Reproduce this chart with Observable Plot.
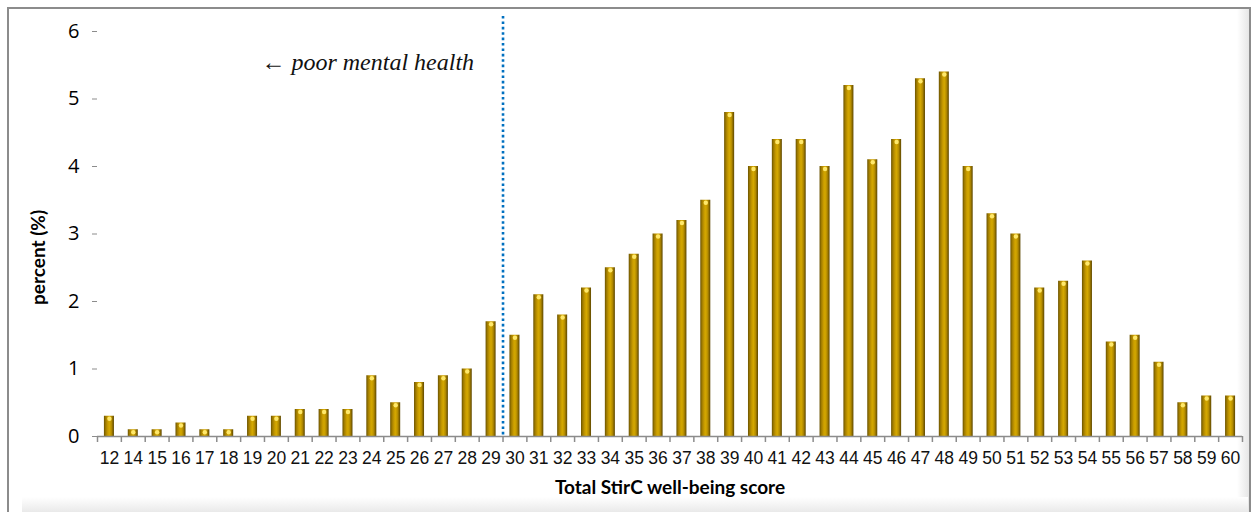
<!DOCTYPE html>
<html>
<head>
<meta charset="utf-8">
<script src="https://cdn.jsdelivr.net/npm/d3@7"></script>
<script src="https://cdn.jsdelivr.net/npm/@observablehq/plot@0.6"></script>
<style>
  html, body { margin: 0; padding: 0; background: #fff; }
  #wrap { position: relative; width: 1257px; height: 512px; overflow: hidden; }
  #frame { position: absolute; left: 7px; top: 7px; width: 1244px; height: 520px;
           border: 2px solid #8c8c8c; box-sizing: border-box;
           background: linear-gradient(to right, rgba(255,255,255,0) 1228px, #e2e2e2 1242px); }
  #bottom { position: absolute; left: 22px; top: 497px; width: 1226px; height: 20px;
            background: linear-gradient(to bottom, #ffffff, #e2e2e2); }
  #chart { position: absolute; left: 0; top: 0; }
</style>
</head>
<body>
<div id="wrap">
  <div id="frame"></div>
  <div id="bottom"></div>
  <div id="chart"></div>
</div>
<script>
const scores = ["12","14","15","16","17","18","19","20","21","22","23","24","25","26","27","28","29","30","31","32","33","34","35","36","37","38","39","40","41","42","43","44","45","46","47","48","49","50","51","52","53","54","55","56","57","58","59","60"];
const percents = [0.3,0.1,0.1,0.2,0.1,0.1,0.3,0.3,0.4,0.4,0.4,0.9,0.5,0.8,0.9,1.0,1.7,1.5,2.1,1.8,2.2,2.5,2.7,3.0,3.2,3.5,4.8,4.0,4.4,4.4,4.0,5.2,4.1,4.4,5.3,5.4,4.0,3.3,3.0,2.2,2.3,2.6,1.4,1.5,1.1,0.5,0.6,0.6];
const yTicks = [0,1,2,3,4,5,6];
const cutoffScore = ["29"];
const annotation = [{score: "29", value: 5.55, text: "\u2190 poor mental health"}];
const xTitle = "Total StirC well-being score";
const yTitle = "percent (%)";

const data = scores.map((s, i) => ({score: s, pct: percents[i]}));

const W = 1257, H = 512, mL = 97, mR = 15, mT = 31, mB = 76;
const step = (W - mL - mR) / scores.length;

const chart = Plot.plot({
  width: W, height: H,
  marginLeft: mL, marginRight: mR, marginTop: mT, marginBottom: mB,
  style: {background: "transparent", overflow: "visible"},
  x: {domain: scores, paddingInner: 0.58, paddingOuter: 0.29, axis: null},
  y: {domain: [0, 6], axis: null},
  marks: [
    Plot.ruleX([0], {frameAnchor: "left", stroke: "#8c8c8c", strokeWidth: 1.5}),
    Plot.axisY(yTicks, {tickSize: 5, tickPadding: 13, stroke: "#8c8c8c", fill: "#000",
      tickFormat: d3.format("d"),
      fontSize: 20, fontFamily: "'Open Sans', sans-serif", label: null}),
    Plot.barY(data, {x: "score", y: "pct", fill: "url(#gold)", ariaLabel: "bars"}),
    Plot.dot(data, {x: "score", y: "pct", r: 2.2, fill: "#ffe86a", dy: 2.5, ariaLabel: "caps"}),
    Plot.ruleY([0], {stroke: "#8c8c8c", strokeWidth: 1.5}),
    Plot.ruleX(scores, {x: d => d, dx: -step / 2, y1: 0, y2: 0, insetBottom: -6, stroke: "#8c8c8c", strokeWidth: 1.5}),
    Plot.ruleX(scores.slice(-1), {x: d => d, dx: step / 2, y1: 0, y2: 0, insetBottom: -6, stroke: "#8c8c8c", strokeWidth: 1.5}),
    Plot.axisX(scores, {tickSize: 0, tickPadding: 15, fill: "#111", fontSize: 17.5,
      fontFamily: "'Liberation Sans Narrow', 'Arial Narrow', sans-serif", fontStretch: "condensed", label: null}),
    Plot.ruleX(cutoffScore, {x: d => d, dx: step / 2, insetTop: -15, stroke: "#0070c0",
      strokeWidth: 2.6, strokeDasharray: "2.6,2.8"}),
    Plot.text(annotation, {x: "score", y: "value", text: "text", textAnchor: "end", dx: -17,
      fontSize: 24, fontStyle: "italic", fontFamily: "'Liberation Serif', serif", fill: "#111"}),
    Plot.text([xTitle], {frameAnchor: "bottom", dy: 57, text: d => d, fontWeight: "bold",
      fontSize: 19, fontFamily: "Lato, sans-serif", fill: "#000"}),
    Plot.text([yTitle], {frameAnchor: "left", dx: -59, dy: 71, rotate: -90, text: d => d, fontWeight: "bold",
      fontSize: 19, fontFamily: "Lato, sans-serif", fill: "#000"})
  ]
});

const svg = d3.select(chart);
const defs = svg.insert("defs", ":first-child");
const g = defs.append("linearGradient").attr("id", "gold").attr("x1", 0).attr("x2", 1).attr("y1", 0).attr("y2", 0);
[[0, "#6a5200"], [0.18, "#a07c00"], [0.4, "#c99c00"], [0.55, "#d4a800"], [0.75, "#b58c00"], [1, "#5c4600"]]
  .forEach(([o, c]) => g.append("stop").attr("offset", o).attr("stop-color", c));
const f = defs.append("filter").attr("id", "shadow").attr("x", "-50%").attr("y", "-10%").attr("width", "200%").attr("height", "120%");
f.append("feDropShadow").attr("dx", 1).attr("dy", 0).attr("stdDeviation", 1.2).attr("flood-color", "#777").attr("flood-opacity", 0.7);
svg.selectAll("g[aria-label='bars']").attr("filter", "url(#shadow)");

document.getElementById("chart").appendChild(chart);
</script>
</body>
</html>
